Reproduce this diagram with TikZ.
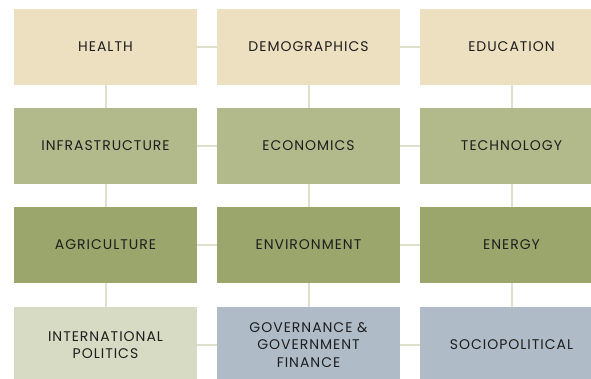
\documentclass[tikz,border=0pt]{standalone}
\usepackage{fontspec}
\setmainfont{Poppins}[LetterSpace=7]
\usepackage{tikz}

\definecolor{beige}{HTML}{EDE0C0}
\definecolor{sage}{HTML}{B2BA8C}
\definecolor{olive}{HTML}{9AA66C}
\definecolor{pale}{HTML}{D7DBC4}
\definecolor{slate}{HTML}{AFBCC7}
\definecolor{link}{HTML}{DDE0CB}
\definecolor{ink}{HTML}{1E1E1E}

\tikzset{
	topic/.style={shape=rectangle, minimum width=183pt, minimum height=76pt, inner sep=0pt,
		align=center, text=ink, font=\fontsize{14}{17.5}\selectfont},
	connect/.style={-, line width=2pt, draw=link}
}

\begin{document}
\begin{tikzpicture}[x=1pt, y=-1pt]
	
	\useasboundingbox (0, 0) rectangle (591, 378);
	
	\node[topic, fill=beige] (health) at (105.5, 47)     {HEALTH};
	\node[topic, fill=beige] (demo) at (308.5, 47)     {DEMOGRAPHICS};
	\node[topic, fill=beige] (edu) at (511.5, 47)     {EDUCATION};
	\node[topic, fill=sage] (infra) at (105.5, 146)     {INFRASTRUCTURE};
	\node[topic, fill=sage] (econ) at (308.5, 146)     {ECONOMICS};
	\node[topic, fill=sage] (tech) at (511.5, 146)     {TECHNOLOGY};
	\node[topic, fill=olive] (agri) at (105.5, 245)     {AGRICULTURE};
	\node[topic, fill=olive] (env) at (308.5, 245)     {ENVIRONMENT};
	\node[topic, fill=olive] (energy) at (511.5, 245)     {ENERGY};
	\node[topic, fill=pale] (intl) at (105.5, 345)     {INTERNATIONAL\\POLITICS};
	\node[topic, fill=slate] (gov) at (308.5, 345)     {GOVERNANCE \&\\GOVERNMENT\\FINANCE};
	\node[topic, fill=slate] (socio) at (511.5, 345)     {SOCIOPOLITICAL};
	
	\path[connect] (health) edge (demo);
	\path[connect] (demo) edge (edu);
	\path[connect] (infra) edge (econ);
	\path[connect] (econ) edge (tech);
	\path[connect] (agri) edge (env);
	\path[connect] (env) edge (energy);
	\path[connect] (intl) edge (gov);
	\path[connect] (gov) edge (socio);
	
	\path[connect] (health) edge (infra);
	\path[connect] (infra) edge (agri);
	\path[connect] (agri) edge (intl);
	
	\path[connect] (demo) edge (econ);
	\path[connect] (econ) edge (env);
	\path[connect] (env) edge (gov);
	
	\path[connect] (edu) edge (tech);
	\path[connect] (tech) edge (energy);
	\path[connect] (energy) edge (socio);
	
\end{tikzpicture}
\end{document}
